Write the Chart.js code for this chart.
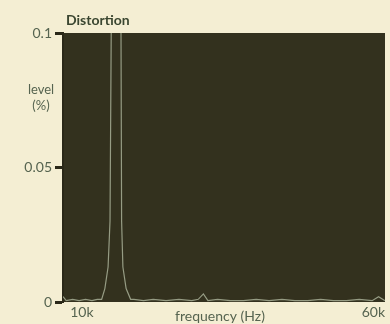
<!DOCTYPE html>
<html>
<head>
<meta charset="utf-8">
<script src="https://cdn.jsdelivr.net/npm/chart.js@4/dist/chart.umd.min.js"></script>
<style>
  html, body { margin: 0; padding: 0; background: #f4eed3; }
  #wrap { width: 390px; height: 324px; }
</style>
</head>
<body>
<div id="wrap"><canvas id="grafica" width="390" height="324"></canvas></div>
<script>
// frecuencia en kHz, nivel en %
const frecuencias = [10, 10.5, 11.5, 12.5, 13.5, 14.5, 15.3, 16.0, 16.5, 17.0, 17.3, 17.5, 19.0, 19.1, 19.3, 19.8, 20.5, 21, 22.5, 24, 26, 28, 30, 31, 31.8, 32.5, 34, 36, 38, 40, 42, 44, 46, 48, 50, 52, 54, 56, 58, 59, 60];
const niveles = [0.002, 0.0005, 0.001, 0.0005, 0.001, 0.0005, 0.001, 0.001, 0.005, 0.013, 0.03, 0.105, 0.105, 0.03, 0.013, 0.005, 0.001, 0.001, 0.0005, 0.001, 0.0005, 0.001, 0.0005, 0.001, 0.003, 0.0005, 0.001, 0.0005, 0.0005, 0.001, 0.0005, 0.001, 0.0005, 0.0005, 0.001, 0.0005, 0.0005, 0.001, 0.0005, 0.002, 0.0005];
const ticksY = [0, 0.05, 0.1];
const etiquetasY = ["0", "0.05", "0.1"];
const ticksX = [10, 60];
const etiquetasX = ["10k", "60k"];

const colorTexto = "#566450";

/* fondo oscuro del area y textos extra */
const fondoArea = {
  id: "fondoArea",
  beforeDraw(chart) {
    const { ctx, chartArea: a } = chart;
    ctx.save();
    ctx.fillStyle = "#33311e";
    ctx.fillRect(a.left, a.top, a.right - a.left, a.bottom - a.top);
    ctx.restore();
  },
  afterDraw(chart) {
    const { ctx, chartArea: a } = chart;
    ctx.save();
    ctx.fillStyle = "#3a4630";
    ctx.font = "bold 14px Lato";
    ctx.textBaseline = "middle";
    ctx.textAlign = "left";
    ctx.fillText("Distortion", a.left + 3, 20);
    ctx.fillStyle = colorTexto;
    ctx.font = "13px Lato";
    ctx.textAlign = "center";
    ctx.fillText("level", 41, 90);
    ctx.fillText("(%)", 41, 106);
    ctx.font = "14px Lato";
    ctx.fillText("frequency (Hz)", 220, 316);
    ctx.restore();
  }
};

const config = {
  type: "line",
  data: {
    datasets: [{
      data: frecuencias.map((f, i) => ({ x: f, y: niveles[i] })),
      borderColor: "#969c84",
      borderWidth: 1.2,
      pointRadius: 0,
      tension: 0
    }]
  },
  options: {
    responsive: false,
    animation: false,
    layout: { padding: { top: 33, right: 5, left: 0, bottom: 0 } },
    plugins: { legend: { display: false }, tooltip: { enabled: false } },
    scales: {
      x: {
        type: "linear",
        min: 10,
        max: 60,
        afterBuildTicks: (s) => { s.ticks = ticksX.map(v => ({ value: v })); },
        afterFit: (s) => { s.height = 22; },
        grid: { display: false, drawTicks: false },
        border: { display: false },
        ticks: {
          align: "inner",
          padding: 2,
          color: colorTexto,
          font: { family: "Lato", size: 14 },
          maxRotation: 0,
          callback: (v) => "  " + etiquetasX[ticksX.indexOf(v)]
        }
      },
      y: {
        min: 0,
        max: 0.1,
        afterBuildTicks: (s) => { s.ticks = ticksY.map(v => ({ value: v })); },
        afterFit: (s) => { s.width = 63; },
        grid: { drawOnChartArea: false, drawTicks: true, tickLength: 8, tickColor: "#2a2818", tickWidth: 3 },
        border: { display: true, color: "#2a2818", width: 2 },
        ticks: {
          padding: 3,
          color: colorTexto,
          font: { family: "Lato", size: 14 },
          callback: (v) => etiquetasY[ticksY.indexOf(v)]
        }
      }
    }
  },
  plugins: [fondoArea]
};

new Chart(document.getElementById("grafica"), config);
</script>
</body>
</html>
